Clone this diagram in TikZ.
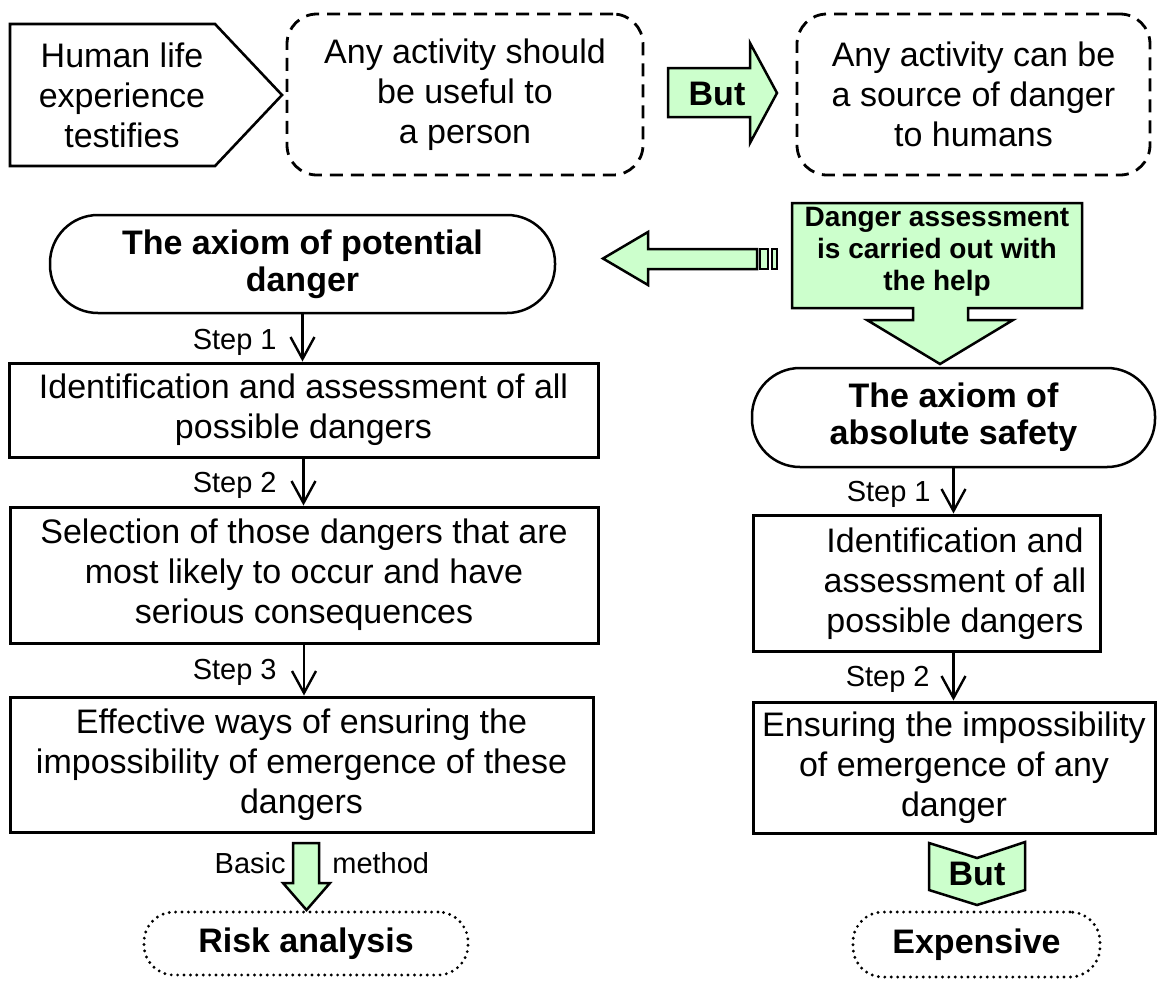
\documentclass[tikz,border=0pt]{standalone}
\usepackage{fontspec}
\setmainfont{Liberation Sans}
\usetikzlibrary{arrows.meta}
\definecolor{paleGreen}{RGB}{204,255,204}
\begin{document}
\begin{tikzpicture}[x=0.5pt,y=-0.5pt,
  txt/.style={font=\fontsize{17}{20}\selectfont, align=center, inner sep=0pt},
  btxt/.style={font=\fontsize{17}{18.5}\selectfont\bfseries, align=center, inner sep=0pt},
  small/.style={font=\fontsize{14.5}{16}\selectfont, inner sep=0pt},
  stepbox/.style={draw, line width=1.5pt, align=center, inner sep=0pt,
    font=\fontsize{17}{20}\selectfont},
  dashbox/.style={draw, line width=1.4pt, dash pattern=on 6.5pt off 4pt,
    rounded corners=15pt, align=center, inner sep=0pt, font=\fontsize{17}{20}\selectfont},
  axiom/.style={draw, line width=1.25pt, rounded corners=24pt, align=center,
    inner sep=0pt, font=\fontsize{17}{18.5}\selectfont\bfseries},
  dotbox/.style={draw, line width=1.6pt, dash pattern=on 0pt off 3.2pt, line cap=round,
    rounded corners=15pt, inner sep=0pt, font=\fontsize{17}{20}\selectfont\bfseries},
  blockarrow/.style={draw, fill=paleGreen, line width=1.25pt, line join=miter},
  conn/.style={line width=1.2pt, -{Straight Barb[length=11pt,width=12pt,line width=1.2pt]}}
]
\useasboundingbox (0,0) rectangle (1157,981);

% ---- top row ----
\draw[line width=1.3pt] (10,24) -- (215,24) -- (282,95) -- (215,166) -- (10,166) -- cycle;
\node[txt] (human) at (122,95) {Human life\\experience\\testifies};

\node[dashbox, minimum width=178pt, minimum height=80.5pt] (useful) at (465,94.5)
  {Any activity should\\be useful to\\a person};
\node[dashbox, minimum width=176.5pt, minimum height=80.5pt] (source) at (973.5,94.5)
  {Any activity can be\\a source of danger\\to humans};

\draw[blockarrow] (668,68) -- (750,68) -- (750,43) -- (777,93) -- (750,143) -- (750,117) -- (668,117) -- cycle;
\node[btxt] (but1) at (717,94) {But};

% ---- danger assessment callout ----
\draw[blockarrow] (792,203) -- (1082,203) -- (1082,308) -- (968,308) -- (968,320) -- (1013,320)
  -- (940,364) -- (867,320) -- (913,320) -- (913,308) -- (792,308) -- cycle;
\node[font=\fontsize{14}{16}\selectfont\bfseries, align=center, inner sep=0pt] (assess)
  at (937,252) {Danger assessment\\is carried out with\\the help};

% striped arrow pointing left
\draw[blockarrow] (603,258.5) -- (648,232) -- (648,249) -- (757,249) -- (757,269) -- (648,269) -- (648,285) -- cycle;
\draw[blockarrow] (760,249) rectangle (768,269);
\draw[blockarrow] (772,249) rectangle (777,269);

% ---- left column ----
\node[axiom, minimum width=252.5pt, minimum height=49pt] (axiomP) at (302.5,264)
  {The axiom of potential\\danger};

\node[stepbox, minimum width=294.5pt, minimum height=47pt] (box1) at (303.5,410)
  {Identification and assessment of all\\possible dangers};
\node[stepbox, minimum width=294pt, minimum height=68pt] (box2) at (304,575)
  {Selection of those dangers that are\\most likely to occur and have\\serious consequences};
\node[stepbox, minimum width=291.5pt, minimum height=67.5pt] (box3) at (301.5,764.5)
  {Effective ways of ensuring the\\impossibility of emergence of these\\dangers};

\draw[conn] (axiomP.south) -- (axiomP.south |- box1.north);
\draw[conn] (box1.south) -- (box1.south |- box2.north);
\draw[conn] (box2.south) -- (box2.south |- box3.north);
\node[small, anchor=east] (s1L) at (277,342) {Step 1};
\node[small, anchor=east] (s2L) at (277,485) {Step 2};
\node[small, anchor=east] (s3L) at (277,672) {Step 3};

\node[dotbox, minimum width=162pt, minimum height=31.5pt] (risk) at (306,943.5) {Risk analysis};
\draw[blockarrow] (293,843) -- (319,843) -- (319,883) -- (330,883) -- (306.5,910) -- (283,883) -- (293,883) -- cycle;
\node[small, anchor=east] (basic) at (286,863) {Basic};
\node[small, anchor=west] (method) at (332,863) {method};

% ---- right column ----
\node[axiom, minimum width=201.5pt, minimum height=49.5pt] (axiomA) at (953.5,417.5)
  {The axiom of\\absolute safety};

\node[stepbox, minimum width=173.5pt, minimum height=68pt] (boxR1) at (926.5,583) {};
\node[txt] (boxR1t) at (955,584) {Identification and\\assessment of all\\possible dangers};
\node[stepbox, minimum width=201pt, minimum height=65.5pt] (boxR2) at (954,767.5)
  {Ensuring the impossibility\\of emergence of any\\danger};

\draw[conn] (axiomA.south) -- (axiomA.south |- boxR1.north);
\draw[conn] (axiomA.south |- boxR1.south) -- (axiomA.south |- boxR2.north);
\node[small, anchor=east] (s1R) at (931,494) {Step 1};
\node[small, anchor=east] (s2R) at (930,679) {Step 2};

\draw[blockarrow] (929,843) -- (977,858) -- (1025,842) -- (1025,890) -- (977,905) -- (929,890) -- cycle;
\node[btxt] (but2) at (977,874) {But};

\node[dotbox, minimum width=123.5pt, minimum height=32.5pt] (expensive) at (976.5,944.5) {Expensive};
\end{tikzpicture}
\end{document}
